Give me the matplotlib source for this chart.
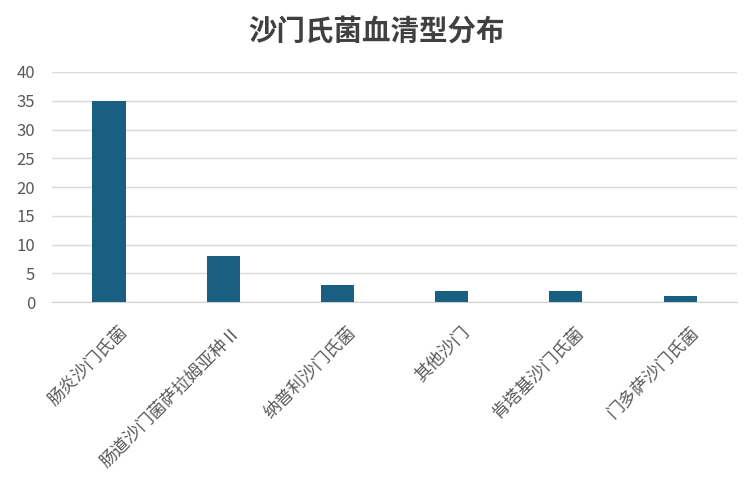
import matplotlib
matplotlib.use("Agg")
import matplotlib.pyplot as plt
import matplotlib.transforms as mtransforms

plt.rcParams['font.family'] = ['Noto Sans CJK SC', 'DejaVu Sans']

categories = ["肠炎沙门氏菌", "肠道沙门菌萨拉姆亚种Ⅱ", "纳普利沙门氏菌", "其他沙门", "肯塔基沙门氏菌", "门多萨沙门氏菌"]
values = [35, 8, 3, 2, 2, 1]
yticks = [0, 5, 10, 15, 20, 25, 30, 35, 40]

fig = plt.figure(figsize=(7.53, 4.93), dpi=100)
ax = fig.add_axes([0.069, 0.387, 0.910, 0.467])

x = list(range(len(categories)))
ax.bar(x, values, width=0.29, color="#185f82", zorder=3)
ax.set_xlim(-0.5, len(categories) - 0.5)
ax.set_ylim(0, 40)
ax.set_yticks(yticks)
ax.set_yticklabels([str(v) for v in yticks], fontsize=12, color="#595959",
                   fontweight='light')
ax.grid(axis='y', color="#d9d9d9", linewidth=1, zorder=0)
for s in ['top', 'right', 'left']:
    ax.spines[s].set_visible(False)
ax.spines['bottom'].set_color("#d0d0d0")
ax.tick_params(axis='both', length=0)
ax.tick_params(axis='y', pad=12)
ax.set_xticks(x)
ax.set_xticklabels(categories, rotation=45, ha='right', va='top',
                   rotation_mode='anchor', fontsize=12.5, color="#595959",
                   fontweight='light')
ax.tick_params(axis='x', pad=15)
offset = mtransforms.ScaledTranslation(9 / 100, 0, fig.dpi_scale_trans)
for lbl in ax.get_xticklabels():
    lbl.set_transform(lbl.get_transform() + offset)

fig.text(0.5, 0.935, "沙门氏菌血清型分布", ha='center', va='center',
         fontsize=20.5, color="#404040", fontweight='bold')

fig.savefig("out.png", dpi=100)
